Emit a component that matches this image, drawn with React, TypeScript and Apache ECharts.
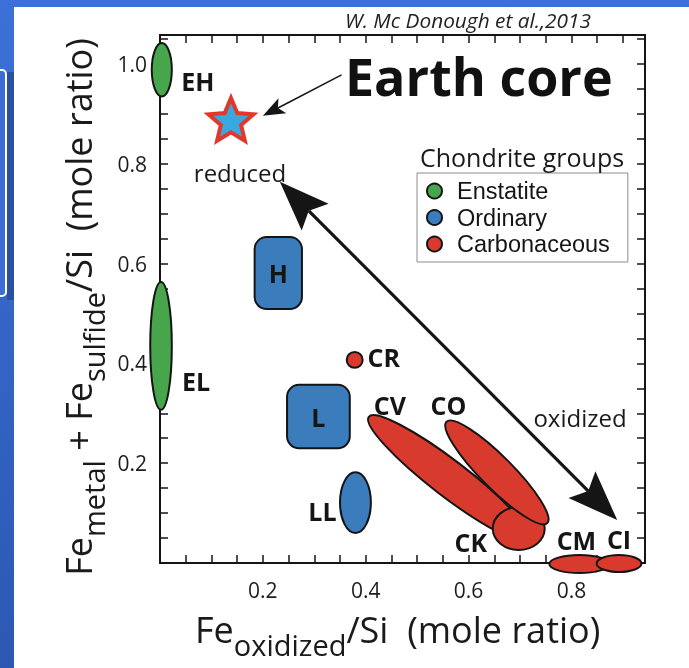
import React, { useEffect, useRef } from 'react';
import * as echarts from 'echarts';

const FONT = '"Open Sans", "Noto Sans", sans-serif';
const LEGEND_FONT = '"Liberation Sans", Arial, sans-serif';

// Chondrite groups: Fe_oxidized/Si (x) against (Fe_metal + Fe_sulfide)/Si (y), mole ratio.
// Each field is given by its [min, max] range along both ratios.
const enstatiteGroups = ['EH', 'EL'];
const enstatiteFeOx = [[-0.016, 0.023], [-0.019, 0.023]];
const enstatiteFeRed = [[0.935, 1.042], [0.307, 0.563]];

const ordinaryGroups = ['H', 'L', 'LL'];
const ordinaryFeOx = [[0.184, 0.276], [0.247, 0.369], [0.35, 0.41]];
const ordinaryFeRed = [[0.509, 0.653], [0.23, 0.357], [0.06, 0.182]];

// CV and CO are elongated trends, given as [start, end] of their long axis
const carbonaceousGroups = ['CR', 'CV', 'CK', 'CO', 'CM', 'CI'];
const carbonaceousFeOx = [[0.363, 0.394], [0.406, 0.718], [0.647, 0.748], [0.557, 0.753], [0.757, 0.874], [0.849, 0.936]];
const carbonaceousFeRed = [[0.391, 0.423], [0.293, 0.046], [0.026, 0.112], [0.283, 0.08], [-0.02, 0.016], [-0.018, 0.016]];

// Bulk Earth core composition
const earthCore = [0.138, 0.889];

// reduced <-> oxidized trend, and the pointer from the "Earth core" caption
const redoxArrow = [0.233, 0.764, 0.889, 0.086];
const earthCoreArrow = [0.353, 0.978, 0.2, 0.896];

const xTickLabels = [0.2, 0.4, 0.6, 0.8];
const yTickLabels = [0.2, 0.4, 0.6, 0.8, 1.0];

const CLASS_COLORS: Record<string, string> = {
  Enstatite: '#47a64c',
  Ordinary: '#3b7cbd',
  Carbonaceous: '#d83a2d',
};
const INK = '#151515';
const BOX_GROUPS = new Set(['H', 'L']);
const TREND_HALF_WIDTH: Record<string, number> = { CV: 18, CO: 16 };
// label position relative to the field centre (trends: relative to their start), px
const LABEL_OFFSET: Record<string, [number, number]> = {
  EH: [36, 11],
  EL: [35, 35],
  H: [0, 0],
  L: [0, 0],
  LL: [-33, 8],
  CR: [29, -3],
  CV: [21, -12],
  CO: [2, -17],
  CK: [-48, 13],
  CM: [-3, -24],
  CI: [0, -24],
};

const toRanges = (xs: number[][], ys: number[][]) => xs.map((x, i) => [x[0], x[1], ys[i][0], ys[i][1]]);

function fieldRenderer(names: string[], color: string) {
  return (params: any, api: any) => {
    const name = names[params.dataIndex];
    const p0 = api.coord([api.value(0), api.value(2)]);
    const p1 = api.coord([api.value(1), api.value(3)]);
    const style = { fill: color, stroke: INK, lineWidth: 2 };
    const children: any[] = [];
    let anchor: number[];
    if (TREND_HALF_WIDTH[name]) {
      const dx = p1[0] - p0[0];
      const dy = p1[1] - p0[1];
      children.push({
        type: 'ellipse',
        x: (p0[0] + p1[0]) / 2,
        y: (p0[1] + p1[1]) / 2,
        rotation: -Math.atan2(dy, dx),
        shape: { cx: 0, cy: 0, rx: Math.hypot(dx, dy) / 2, ry: TREND_HALF_WIDTH[name] },
        style,
      });
      anchor = p0;
    } else {
      const x = Math.min(p0[0], p1[0]);
      const y = Math.min(p0[1], p1[1]);
      const w = Math.abs(p1[0] - p0[0]);
      const h = Math.abs(p1[1] - p0[1]);
      if (BOX_GROUPS.has(name)) {
        children.push({ type: 'rect', shape: { x, y, width: w, height: h, r: 12 }, style });
      } else {
        children.push({ type: 'ellipse', shape: { cx: x + w / 2, cy: y + h / 2, rx: w / 2, ry: h / 2 }, style });
      }
      anchor = [x + w / 2, y + h / 2];
    }
    const off = LABEL_OFFSET[name];
    children.push({
      type: 'text',
      x: anchor[0] + off[0],
      y: anchor[1] + off[1],
      style: {
        text: name,
        fill: INK,
        fontSize: 25,
        fontWeight: 'bold',
        fontFamily: FONT,
        align: 'center',
        verticalAlign: 'middle',
      },
    });
    return { type: 'group', children };
  };
}

// arrow geometry: line width, head length, head half width, notch depth, heads at both ends
const ARROW_STYLES = [
  { width: 3.2, head: 50, half: 19, notch: 41, both: true },
  { width: 1.5, head: 22, half: 8.5, notch: 17, both: false },
];

function arrowHead(tip: number[], from: number[], L: number, W: number, N: number) {
  const dx = from[0] - tip[0];
  const dy = from[1] - tip[1];
  const len = Math.hypot(dx, dy);
  const ux = dx / len;
  const uy = dy / len;
  const nx = -uy;
  const ny = ux;
  return [
    [tip[0], tip[1]],
    [tip[0] + ux * L + nx * W, tip[1] + uy * L + ny * W],
    [tip[0] + ux * N, tip[1] + uy * N],
    [tip[0] + ux * L - nx * W, tip[1] + uy * L - ny * W],
  ];
}

function arrowRenderer(params: any, api: any) {
  const s = ARROW_STYLES[params.dataIndex];
  const a = api.coord([api.value(0), api.value(1)]);
  const b = api.coord([api.value(2), api.value(3)]);
  const len = Math.hypot(b[0] - a[0], b[1] - a[1]);
  const ux = (b[0] - a[0]) / len;
  const uy = (b[1] - a[1]) / len;
  const startCut = s.both ? s.notch : 0;
  const children: any[] = [
    {
      type: 'line',
      shape: {
        x1: a[0] + ux * startCut,
        y1: a[1] + uy * startCut,
        x2: b[0] - ux * s.notch,
        y2: b[1] - uy * s.notch,
      },
      style: { stroke: INK, lineWidth: s.width },
    },
    { type: 'polygon', shape: { points: arrowHead(b, a, s.head, s.half, s.notch) }, style: { fill: INK } },
  ];
  if (s.both) {
    children.push({ type: 'polygon', shape: { points: arrowHead(a, b, s.head, s.half, s.notch) }, style: { fill: INK } });
  }
  return { type: 'group', children };
}

const starPath =
  'path://' +
  Array.from({ length: 10 }, (_, i) => {
    const r = i % 2 === 0 ? 1 : 0.45;
    const ang = -Math.PI / 2 + (i * Math.PI) / 5;
    return `${i === 0 ? 'M' : 'L'}${(r * Math.cos(ang)).toFixed(4)},${(r * Math.sin(ang)).toFixed(4)}`;
  }).join(' ') +
  ' Z';

const tickFormatter = (labels: number[]) => (v: number) =>
  labels.some((t) => Math.abs(t - v) < 1e-6) ? v.toFixed(1) : '';

const axisBase = {
  type: 'value' as const,
  min: 0,
  interval: 0.05,
  splitLine: { show: false },
  axisLine: { show: true, onZero: false, lineStyle: { color: INK, width: 2 } },
  axisTick: { show: true, inside: true, length: 8, lineStyle: { color: INK, width: 1.5 } },
};

const labelStyle = { fontSize: 21, color: '#1d1d1d', fontFamily: FONT };

function buildOption(): any {
  const titleMain = { fontSize: 36, fontFamily: FONT, fill: '#1a1a1a', verticalAlign: 'bottom', lineHeight: 36, padding: [0, 0, 12, 0] };
  const titleSub = { fontSize: 29, fontFamily: FONT, fill: '#1a1a1a', verticalAlign: 'bottom', lineHeight: 29 };

  return {
    animation: false,
    grid: { left: 160, right: 44, top: 35, bottom: 105 },
    xAxis: [
      { ...axisBase, max: 0.943, position: 'bottom', axisLabel: { ...labelStyle, margin: 16, formatter: tickFormatter(xTickLabels) } },
      { ...axisBase, max: 0.943, position: 'top', axisLabel: { show: false } },
    ],
    yAxis: [
      { ...axisBase, max: 1.058, position: 'left', axisLabel: { ...labelStyle, margin: 13, formatter: tickFormatter(yTickLabels) } },
      { ...axisBase, max: 1.058, position: 'right', axisLabel: { show: false } },
    ],
    legend: {
      data: ['Enstatite', 'Ordinary', 'Carbonaceous'],
      orient: 'vertical',
      left: 417,
      top: 173,
      icon: 'circle',
      itemWidth: 15,
      itemHeight: 15,
      itemGap: 2.5,
      selectedMode: false,
      backgroundColor: '#fff',
      borderColor: '#8c8c8c',
      borderWidth: 1,
      padding: [6, 18, 6, 9],
      textStyle: { fontSize: 23.5, lineHeight: 24, fontFamily: LEGEND_FONT, color: INK, padding: [0, 0, 0, 10] },
      itemStyle: { borderColor: INK, borderWidth: 2 },
    },
    graphic: [
      {
        type: 'rect',
        z: -20,
        silent: true,
        shape: { x: 0, y: 0, width: 689, height: 668 },
        style: {
          fill: new echarts.graphic.LinearGradient(0, 0, 0, 1, [
            { offset: 0, color: '#3b71d8' },
            { offset: 1, color: '#2c58b3' },
          ]),
        },
      },
      { type: 'rect', z: -19, silent: true, shape: { x: 7, y: 72, width: 7, height: 228 }, style: { fill: '#2a519f' } },
      { type: 'rect', z: -18, silent: true, shape: { x: -8, y: 70, width: 14, height: 226, r: 4 }, style: { fill: '#3a6ed5', stroke: '#ffffff', lineWidth: 2 } },
      { type: 'rect', z: -17, silent: true, shape: { x: 14, y: 7, width: 675, height: 661 }, style: { fill: '#ffffff' } },
      {
        type: 'text',
        z: 10,
        x: 345,
        y: 20,
        style: { text: 'W. Mc Donough et al.,2013', fill: '#222', fontSize: 20.8, fontStyle: 'italic', fontFamily: FONT, verticalAlign: 'middle' },
      },
      {
        type: 'text',
        z: 10,
        x: 345,
        y: 75,
        style: { text: 'Earth core', fill: '#111', fontSize: 52, fontWeight: 'bold', fontFamily: FONT, verticalAlign: 'middle' },
      },
      {
        type: 'text',
        z: 10,
        x: 240,
        y: 172,
        style: { text: 'reduced', fill: '#1a1a1a', fontSize: 24, fontFamily: FONT, align: 'center', verticalAlign: 'middle' },
      },
      {
        type: 'text',
        z: 10,
        x: 580,
        y: 417,
        style: { text: 'oxidized', fill: '#1a1a1a', fontSize: 24, fontFamily: FONT, align: 'center', verticalAlign: 'middle' },
      },
      {
        type: 'text',
        z: 10,
        x: 420,
        y: 157,
        style: { text: 'Chondrite groups', fill: '#1a1a1a', fontSize: 25, fontFamily: FONT, verticalAlign: 'middle' },
      },
      {
        type: 'text',
        z: 10,
        x: 195,
        y: 641,
        style: {
          text: '{m|Fe}{s|oxidized}{m|/Si  (mole ratio)}',
          verticalAlign: 'middle',
          rich: { m: titleMain, s: titleSub },
        },
      },
      {
        type: 'text',
        z: 10,
        x: 90,
        y: 307,
        rotation: Math.PI / 2,
        style: {
          text: '{m|Fe}{s|metal}{m| + Fe}{s|sulfide}{m|/Si  (mole ratio)}',
          align: 'center',
          verticalAlign: 'middle',
          rich: { m: titleMain, s: titleSub },
        },
      },
    ],
    series: [
      {
        type: 'custom',
        name: 'Enstatite',
        silent: true,
        itemStyle: { color: CLASS_COLORS.Enstatite },
        encode: { x: [0, 1], y: [2, 3] },
        data: toRanges(enstatiteFeOx, enstatiteFeRed),
        renderItem: fieldRenderer(enstatiteGroups, CLASS_COLORS.Enstatite),
        z: 3,
      },
      {
        type: 'custom',
        name: 'Ordinary',
        silent: true,
        itemStyle: { color: CLASS_COLORS.Ordinary },
        encode: { x: [0, 1], y: [2, 3] },
        data: toRanges(ordinaryFeOx, ordinaryFeRed),
        renderItem: fieldRenderer(ordinaryGroups, CLASS_COLORS.Ordinary),
        z: 3,
      },
      {
        type: 'custom',
        name: 'Carbonaceous',
        silent: true,
        itemStyle: { color: CLASS_COLORS.Carbonaceous },
        encode: { x: [0, 1], y: [2, 3] },
        data: toRanges(carbonaceousFeOx, carbonaceousFeRed),
        renderItem: fieldRenderer(carbonaceousGroups, CLASS_COLORS.Carbonaceous),
        z: 3,
      },
      {
        type: 'custom',
        name: 'arrows',
        silent: true,
        encode: { x: [0, 2], y: [1, 3] },
        data: [redoxArrow, earthCoreArrow],
        renderItem: arrowRenderer,
        z: 4,
      },
      {
        type: 'scatter',
        name: 'Earth core',
        silent: true,
        symbol: starPath,
        symbolKeepAspect: true,
        symbolSize: 45,
        itemStyle: { color: '#3aa8e0', borderColor: '#e0392b', borderWidth: 4, opacity: 1 },
        data: [earthCore],
        z: 5,
      },
    ],
  };
}

export default function App() {
  const ref = useRef<HTMLDivElement>(null);
  useEffect(() => {
    const chart = echarts.init(ref.current!, null, { renderer: 'svg' });
    chart.setOption(buildOption());
    return () => chart.dispose();
  }, []);
  return <div ref={ref} style={{ position: 'fixed', left: 0, top: 0, width: 689, height: 668 }} />;
}
